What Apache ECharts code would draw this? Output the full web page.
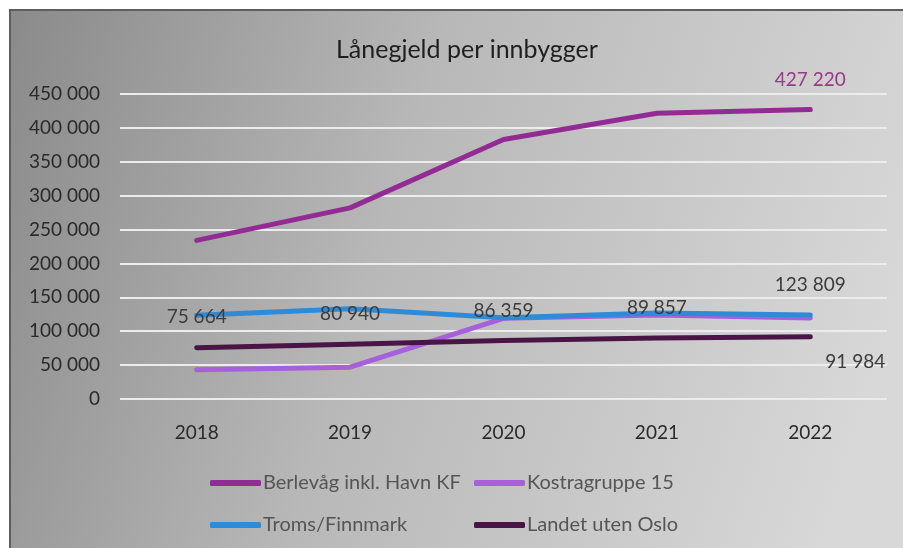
<!DOCTYPE html>
<html><head><meta charset="utf-8">
<script src="https://cdn.jsdelivr.net/npm/echarts@6/dist/echarts.min.js"></script>
<style>html,body{margin:0;padding:0;background:#fff}#c{width:903px;height:548px}</style>
</head><body><div id="c"></div>
<script>
const categories = ['2018','2019','2020','2021','2022'];
const berlevag = [234000, 282000, 383000, 421500, 427220];
const kostra = [43000, 47000, 119000, 124000, 119500];
const troms = [123500, 133000, 120000, 127000, 123809];
const landet = [75664, 80940, 86359, 89857, 91984];
const seriesNames = ['Berlevåg inkl. Havn KF','Kostragruppe 15','Troms/Finnmark','Landet uten Oslo'];
const colors = ['#922c94','#a660dc','#2f8bd7','#4a1447'];
const titleText = 'Lånegjeld per innbygger';
const FONT = 'Lato';

const fmt = v => String(Math.round(v)).replace(/\B(?=(\d{3})+(?!\d))/g, ' ');

function build(values, labelCfg) {
  return values.map((v, i) => {
    const cfg = labelCfg[i];
    if (!cfg) return { value: v, label: { show: false } };
    return { value: v, label: Object.assign({ show: true, position: 'inside', formatter: p => fmt(p.value),
      fontFamily: FONT, fontSize: 19, color: '#3c3c3c' }, cfg) };
  });
}

const chart = echarts.init(document.getElementById('c'), null, { renderer: 'canvas' });
const lineSeries = (name, values, color, labels, z) => ({
  name, type: 'line', data: build(values, labels), z,
  symbol: 'circle', symbolSize: 0, showSymbol: true,
  lineStyle: { width: 5, color, cap: 'round', join: 'round' },
  itemStyle: { color },
  emphasis: { disabled: true }
});
const legendItem = (name, left, top) => ({
  data: [name], left, top, itemWidth: 51, itemHeight: 6, itemGap: 0, icon: 'roundRect',
  textStyle: { fontFamily: FONT, fontSize: 20, color: '#555', padding: [0,0,0,-3] }
});

chart.setOption({
  animation: false,
  color: colors,
  graphic: [{
    type: 'rect', z: -10, silent: true,
    shape: { x: 10, y: 10, width: 900, height: 545 },
    style: {
      fill: new echarts.graphic.LinearGradient(0, 0, 1, 0.5, [
        { offset: 0, color: '#8a8a8a' },
        { offset: 0.45, color: '#b8b8b8' },
        { offset: 1, color: '#d8d8d8' }
      ]),
      stroke: '#5e5e5e', lineWidth: 2
    }
  }],
  title: {
    text: titleText, left: 331, top: 32,
    textStyle: { fontFamily: FONT, fontSize: 25, fontWeight: 'normal', color: '#1e1e1e' }
  },
  legend: [
    legendItem(seriesNames[0], 205, 468),
    legendItem(seriesNames[1], 469, 468),
    legendItem(seriesNames[2], 205, 510),
    legendItem(seriesNames[3], 469, 510)
  ],
  grid: { left: 120, right: 16, top: 94, bottom: 149 },
  xAxis: {
    type: 'category', data: categories, boundaryGap: true,
    axisLine: { show: false }, axisTick: { show: false },
    axisLabel: { fontFamily: FONT, fontSize: 19, color: '#2a2a2a', margin: 24 }
  },
  yAxis: {
    type: 'value', min: 0, max: 450000, interval: 50000,
    axisLine: { show: false }, axisTick: { show: false },
    axisLabel: { fontFamily: FONT, fontSize: 19, color: '#2a2a2a', margin: 20, formatter: v => fmt(v) },
    splitLine: { lineStyle: { color: '#ececec', width: 2 } }
  },
  series: [
    lineSeries(seriesNames[0], berlevag, colors[0], {4: { offset: [0, -30], color: '#973a86' }}, 2),
    lineSeries(seriesNames[1], kostra, colors[1], {}, 3),
    lineSeries(seriesNames[2], troms, colors[2], {4: { offset: [0, -30] }}, 4),
    lineSeries(seriesNames[3], landet, colors[3], {0: { offset: [0, -31] }, 1: { offset: [0, -30] }, 2: { offset: [0, -30] }, 3: { offset: [0, -30] }, 4: { offset: [45, 25] }}, 5)
  ]
});
</script></body></html>
